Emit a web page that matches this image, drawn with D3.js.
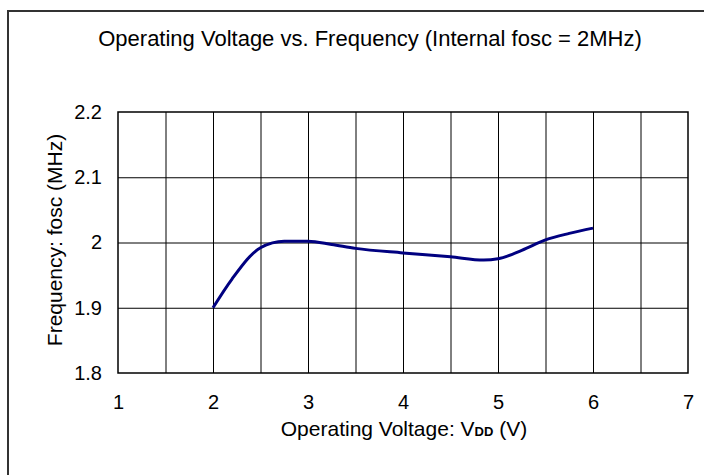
<!DOCTYPE html>
<html>
<head>
<meta charset="utf-8">
<script src="https://cdn.jsdelivr.net/npm/d3@7"></script>
<style>
  body { margin: 0; background: #fff; }
  svg { display: block; font-family: "Liberation Sans", Arial, sans-serif; }
</style>
</head>
<body>
<div id="chart"></div>
<script>
// curve
var voltage = [2, 2.2, 2.5, 2.75, 3, 3.25, 3.5, 4, 4.5, 4.85, 5, 5.25, 5.5, 5.75, 6];
var freq = [1.9, 1.944, 1.992, 2.002, 2.002, 1.997, 1.991, 1.984, 1.978, 1.973, 1.975, 1.988, 2.004, 2.014, 2.022];
var xTicks = [1, 2, 3, 4, 5, 6, 7];
var yTicks = [1.8, 1.9, 2.0, 2.1, 2.2];

var data = voltage.map(function (v, i) { return { v: v, f: freq[i] }; });

var W = 704, H = 475;
var margin = { top: 112, right: 16, bottom: 102, left: 118 },
    width = W - margin.left - margin.right,
    height = H - margin.top - margin.bottom;

var svg = d3.select("#chart").append("svg")
    .attr("width", W)
    .attr("height", H);

// outer frame
svg.append("rect")
    .attr("x", 8).attr("y", 11)
    .attr("width", W).attr("height", H)
    .attr("fill", "none")
    .attr("stroke", "#333")
    .attr("stroke-width", 2);

var chart = svg.append("g")
    .attr("transform", "translate(" + margin.left + "," + margin.top + ")");

var x = d3.scaleLinear().domain([1, 7]).range([0, width]);
var y = d3.scaleLinear().domain([1.8, 2.2]).range([height, 0]);

// grid
chart.append("g")
    .call(d3.axisBottom(x).tickValues(d3.range(1.5, 7, 0.5)).tickSize(height).tickFormat(""))
    .call(function (g) { g.select(".domain").remove(); })
    .selectAll("line").attr("stroke", "#000").attr("stroke-width", 1);

chart.append("g")
    .call(d3.axisLeft(y).tickValues([1.9, 2.0, 2.1]).tickSize(-width).tickFormat(""))
    .call(function (g) { g.select(".domain").remove(); })
    .selectAll("line").attr("stroke", "#000").attr("stroke-width", 1);

chart.append("rect")
    .attr("width", width).attr("height", height)
    .attr("fill", "none").attr("stroke", "#000").attr("stroke-width", 1.5);

// tick labels
chart.append("g")
    .attr("transform", "translate(0," + height + ")")
    .call(d3.axisBottom(x).tickValues(xTicks).tickSize(0).tickPadding(22).tickFormat(d3.format("d")))
    .call(function (g) { g.select(".domain").remove(); })
    .selectAll("text").attr("font-size", "20px").attr("font-family", "Liberation Sans, Arial, sans-serif").attr("fill", "#000");

chart.append("g")
    .call(d3.axisLeft(y).tickValues(yTicks).tickSize(0).tickPadding(16)
        .tickFormat(function (d) { return d === 2 ? "2" : d3.format(".1f")(d); }))
    .call(function (g) { g.select(".domain").remove(); })
    .selectAll("text").attr("font-size", "20px").attr("font-family", "Liberation Sans, Arial, sans-serif").attr("fill", "#000");

// curve
chart.append("path")
    .datum(data)
    .attr("fill", "none")
    .attr("stroke", "#000080")
    .attr("stroke-width", 3)
    .attr("d", d3.line()
        .x(function (d) { return x(d.v); })
        .y(function (d) { return y(d.f); })
        .curve(d3.curveMonotoneX));

// title
svg.append("text")
    .attr("x", 370).attr("y", 46)
    .attr("text-anchor", "middle")
    .attr("font-size", "22px")
    .text("Operating Voltage vs. Frequency (Internal fosc = 2MHz)");

// x label
var xl = svg.append("text")
    .attr("x", 404).attr("y", 436)
    .attr("text-anchor", "middle")
    .attr("font-size", "21px");
xl.append("tspan").text("Operating Voltage: V");
xl.append("tspan").attr("font-size", "13px").attr("font-weight", "bold").text("DD");
xl.append("tspan").text(" (V)");

// y label
svg.append("text")
    .attr("transform", "translate(62,240) rotate(-90)")
    .attr("text-anchor", "middle")
    .attr("font-size", "21px")
    .text("Frequency: fosc (MHz)");
</script>
</body>
</html>
